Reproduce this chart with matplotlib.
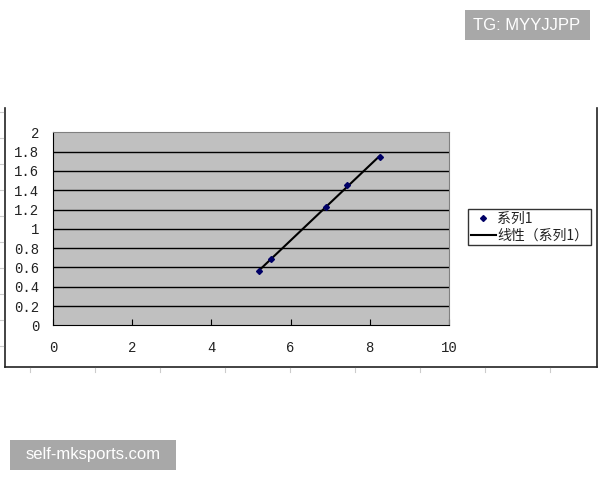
import numpy as np
import matplotlib
matplotlib.use("Agg")
import matplotlib.pyplot as plt
from matplotlib.lines import Line2D
from matplotlib.patches import Rectangle

plt.rcParams['font.family'] = ['Noto Sans CJK SC', 'DejaVu Sans']

x_vals = [5.21, 5.50, 6.89, 7.42, 8.25]
y_vals = [0.56, 0.69, 1.23, 1.45, 1.74]
series_name = "系列1"
trend_name = "线性（系列1）"
x_ticks = [0, 2, 4, 6, 8, 10]
y_ticks = [0, 0.2, 0.4, 0.6, 0.8, 1, 1.2, 1.4, 1.6, 1.8, 2]
y_tick_labels = ["0", "0.2", "0.4", "0.6", "0.8", "1", "1.2", "1.4", "1.6", "1.8", "2"]

fig = plt.figure(figsize=(6, 4.8), dpi=100)
fig.patch.set_facecolor("white")

# outer chart frame (left, bottom, right)
fig.add_artist(Line2D([5/600, 5/600], [1-108/480, 1-367/480], color="#222222", lw=1.2))
fig.add_artist(Line2D([5/600, 597/600], [1-367/480, 1-367/480], color="#222222", lw=1.2))
fig.add_artist(Line2D([597/600, 597/600], [1-108/480, 1-367/480], color="#222222", lw=1.2))
# faint spreadsheet cell marks
for yy in range(112, 367, 26):
    fig.add_artist(Line2D([0, 3/600], [1-yy/480, 1-yy/480], color="#cccccc", lw=0.8))
for xx in range(30, 600, 65):
    fig.add_artist(Line2D([xx/600, xx/600], [1-368/480, 1-372/480], color="#cccccc", lw=0.8))

ax = fig.add_axes([53/600, 1-325.3/480, 396/600, 193/480])
ax.set_facecolor("#c0c0c0")
ax.set_xlim(0, 10)
ax.set_ylim(0, 2)
ax.set_yticks(y_ticks)
ax.set_yticklabels(y_tick_labels)
ax.set_xticks(x_ticks)
for yt in y_ticks[1:-1]:
    ax.axhline(yt, color="black", lw=1.0, zorder=1)
ax.spines["top"].set_color("#808080")
ax.spines["right"].set_color("#808080")
ax.spines["left"].set_color("black")
ax.spines["bottom"].set_color("black")
ax.tick_params(axis="x", direction="in", length=4, pad=11, colors="black")
ax.tick_params(axis="y", length=0, pad=10)
for lab in ax.get_xticklabels() + ax.get_yticklabels():
    lab.set_fontfamily("Liberation Mono")
    lab.set_fontsize(10)
    lab.set_color("#222222")

# trendline
coef = np.polyfit(x_vals, y_vals, 1)
xs = np.array([min(x_vals), max(x_vals)])
ax.plot(xs, np.polyval(coef, xs), color="black", lw=1.5, zorder=3, label=trend_name)
ax.plot(x_vals, y_vals, linestyle="none", marker="D", markersize=3, color="#000066", zorder=4, label=series_name)

handles = [Line2D([], [], linestyle="none", marker="D", markersize=3, color="#000066"),
           Line2D([], [], color="black", lw=1.5)]
leg = fig.legend(handles, [series_name, trend_name], loc="upper left",
                 bbox_to_anchor=(468/600, 1-209/480), frameon=True, fancybox=False,
                 edgecolor="black", fontsize=10, handlelength=1.8, handletextpad=0.1,
                 borderpad=0.2, labelspacing=0.2, borderaxespad=0)
leg.get_frame().set_linewidth(1.0)
for t in leg.get_texts():
    t.set_color("#222222")

# watermarks
fig.add_artist(Rectangle((465/600, 1-40/480), 125/600, 30/480, transform=fig.transFigure,
                         facecolor="#a8a8a8", edgecolor="none"))
fig.text(527/600, 1-25/480, "TG: MYYJJPP", color="white", fontsize=12, ha="center", va="center",
         family=["Liberation Sans"])
fig.add_artist(Rectangle((10/600, 1-470/480), 166/600, 30/480, transform=fig.transFigure,
                         facecolor="#a8a8a8", edgecolor="none"))
fig.text(93/600, 1-455/480, "self-mksports.com", color="white", fontsize=12, ha="center", va="center",
         family=["Liberation Sans"])

fig.savefig("out.png", dpi=100)
